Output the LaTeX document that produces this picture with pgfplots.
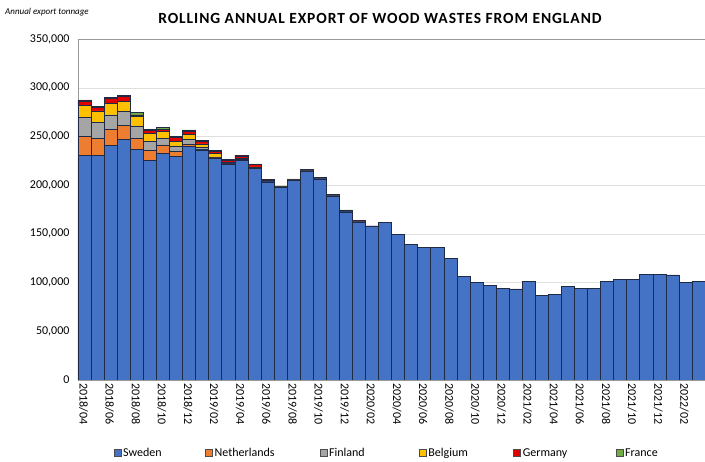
\documentclass[border=0pt]{standalone}
\usepackage{fontspec}
\setmainfont{Carlito}
\usepackage{pgfplots}
\usepackage{pgfplotstable}
\pgfplotsset{compat=1.18}

\definecolor{cSweden}{HTML}{4472C4}
\definecolor{cNeth}{HTML}{ED7D31}
\definecolor{cFin}{HTML}{A5A5A5}
\definecolor{cBel}{HTML}{FFC000}
\definecolor{cGer}{HTML}{E00000}
\definecolor{cFra}{HTML}{70AD47}
\definecolor{edge}{HTML}{1F2A44}

% rolling annual tonnage by destination, 2018/04 .. 2022/03
\pgfplotstableread{
x  Sw     NL    Fi    Be    Ge    Fr
0  230200 19500 19500 12800 4400 1000
1  230200 17800 16100 12000 3800 800
2  240900 16400 14700 12000 5100 1000
3  247100 14600 13700 10300 5100 1000
4  236800 11300 12600 9600  1700 2400
5  225500 9900  9900  7900  2700 1400
6  232700 8500  6900  6800  2400 2100
7  229200 5100  5900  4400  4100 1700
8  239500 2400  5200  5100  2700 1700
9  236100 800   2000  3500  2500 1400
10 227500 500   1000  3500  2000 900
11 221700 300   500   1000  2300 700
12 225800 300   500   1000  2500 800
13 217300 200   400   800   2300 700
14 203500 100   200   300   1200 500
15 197800 100   100   200   800  300
16 205000 100   100   200   800  300
17 214500 100   100   200   1100 300
18 206300 100   100   200   1100 300
19 188900 100   100   200   1100 300
20 172700 100   100   200   1200 300
21 162200 100   100   100   800  200
22 158100 0     0     0     200  0
23 161500 0     0     0     0    0
24 149500 0     0     0     0    0
25 139300 0     0     0     0    0
26 136500 0     0     0     0    0
27 136500 0     0     0     0    0
28 125200 0     0     0     0    0
29 106000 0     0     0     0    0
30 99900  0     0     0     0    0
31 96800  0     0     0     0    0
32 94100  0     0     0     0    0
33 93400  0     0     0     0    0
34 101300 0     0     0     0    0
35 86900  0     0     0     0    0
36 87600  0     0     0     0    0
37 95800  0     0     0     0    0
38 94100  0     0     0     0    0
39 94100  0     0     0     0    0
40 101300 0     0     0     0    0
41 103300 0     0     0     0    0
42 103300 0     0     0     0    0
43 108500 0     0     0     0    0
44 108500 0     0     0     0    0
45 107800 0     0     0     0    0
46 100300 0     0     0     0    0
47 101300 0     0     0     0    0
}\exports

\begin{document}
\begin{tikzpicture}[x=1pt,y=1pt]
\path[use as bounding box] (0,0) rectangle (705,462);
\begin{axis}[
    at={(78pt,82pt)}, anchor=south west,
    scale only axis, width=627pt, height=341pt,
    ybar stacked, bar width=1,
    xmin=-0.5, xmax=47.5,
    ymin=0, ymax=350000,
    ytick={0,50000,...,350000},
    scaled y ticks=false,
    /pgf/number format/fixed,
    /pgf/number format/1000 sep={,},
    /pgf/number format/assume math mode=true,
    yticklabel style={font=\fontsize{12}{14}\selectfont, xshift=-5pt},
    xtick={0,2,...,46},
    xticklabels={2018/04,2018/06,2018/08,2018/10,2018/12,2019/02,2019/04,2019/06,2019/08,2019/10,2019/12,2020/02,2020/04,2020/06,2020/08,2020/10,2020/12,2021/02,2021/04,2021/06,2021/08,2021/10,2021/12,2022/02},
    xticklabel style={rotate=-90, anchor=west, font=\fontsize{12}{14}\selectfont, yshift=-1pt},
    major tick length=0pt,
    ymajorgrids, grid style={gray!25},
    axis line style={gray!80},
    legend columns=6,
    legend style={draw=none, fill=none, at={(0.052,-0.214)}, anchor=west,
        font=\fontsize{12}{14}\selectfont,
        /tikz/every even column/.append style={column sep=0pt}},
    legend image code/.code={\draw[#1, draw=gray!60!black, line width=0.4pt] (0pt,-3.5pt) rectangle (7pt,3.5pt);},
]
\addplot[fill=cSweden, draw=edge, line width=0.45pt] table[x=x, y=Sw] {\exports};
\addlegendentry{\makebox[80pt][l]{Sweden}}
\addplot[fill=cNeth, draw=edge, line width=0.45pt] table[x=x, y=NL] {\exports};
\addlegendentry{\makebox[103pt][l]{Netherlands}}
\addplot[fill=cFin, draw=edge, line width=0.45pt] table[x=x, y=Fi] {\exports};
\addlegendentry{\makebox[88pt][l]{Finland}}
\addplot[fill=cBel, draw=edge, line width=0.45pt] table[x=x, y=Be] {\exports};
\addlegendentry{\makebox[83pt][l]{Belgium}}
\addplot[fill=cGer, draw=edge, line width=0.45pt] table[x=x, y=Ge] {\exports};
\addlegendentry{\makebox[91pt][l]{Germany}}
\addplot[fill=cFra, draw=edge, line width=0.45pt] table[x=x, y=Fr] {\exports};
\addlegendentry{\makebox[50pt][l]{France}}
\end{axis}
\node[font=\bfseries\fontsize{15.5}{18}\selectfont\addfontfeature{LetterSpace=6}] at (380,444) {ROLLING ANNUAL EXPORT OF WOOD WASTES FROM ENGLAND};
\node[anchor=west, font=\itshape\fontsize{9}{10}\selectfont, inner sep=0pt] at (5,450) {Annual export tonnage};
\end{tikzpicture}
\end{document}
